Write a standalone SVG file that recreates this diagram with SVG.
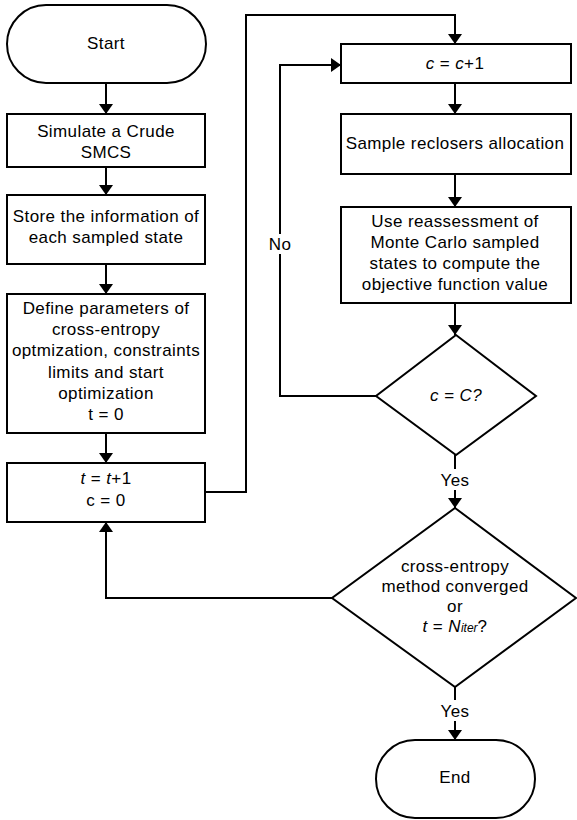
<svg xmlns="http://www.w3.org/2000/svg" width="577" height="820" viewBox="0 0 577 820">
  <defs>
    <marker id="arrow" viewBox="0 0 10 14" refX="10" refY="7" markerWidth="10" markerHeight="14" markerUnits="userSpaceOnUse" orient="auto">
      <path d="M0,0 L10,7 L0,14 Z" fill="#000"/>
    </marker>
    <style>
      .shape { fill: #fff; stroke: #000; stroke-width: 2; }
      .edge { fill: none; stroke: #000; stroke-width: 2; }
      .arr { marker-end: url(#arrow); }
      text { font-family: "Liberation Sans", Arial, sans-serif; font-size: 17px; letter-spacing: 0.4px; fill: #000; text-anchor: middle; }
      .it { font-style: italic; }
      .sub { font-style: italic; font-size: 12px; letter-spacing: 0; }
      .lbl { fill: #fff; stroke: none; }
    </style>
  </defs>

  <!-- connectors -->
  <g id="connectors">
    <line class="edge arr" x1="106" y1="83" x2="106" y2="114"/>
    <line class="edge arr" x1="106" y1="167" x2="106" y2="195"/>
    <line class="edge arr" x1="106" y1="264" x2="106" y2="294"/>
    <line class="edge arr" x1="106" y1="433" x2="106" y2="463"/>
    <polyline class="edge arr" points="205,492 246,492 246,15 455,15 455,44"/>
    <line class="edge arr" x1="455" y1="83" x2="455" y2="114"/>
    <line class="edge arr" x1="455" y1="174" x2="455" y2="207"/>
    <line class="edge arr" x1="455" y1="303" x2="455" y2="335"/>
    <polyline class="edge arr" points="376,396 280,396 280,65 341,65"/>
    <rect class="lbl" x="266" y="234" width="28" height="20"/>
    <text x="280" y="250">No</text>
    <line class="edge arr" x1="455" y1="455" x2="455" y2="508"/>
    <rect class="lbl" x="437" y="469" width="36" height="21"/>
    <text x="455" y="486">Yes</text>
    <polyline class="edge arr" points="332,598 106,598 106,522"/>
    <line class="edge arr" x1="455" y1="687" x2="455" y2="740"/>
    <rect class="lbl" x="437" y="700" width="36" height="21"/>
    <text x="455" y="717">Yes</text>
  </g>

  <g id="start">
    <rect class="shape" x="7" y="5" width="199" height="78" rx="39" ry="39"/>
    <text x="106" y="49">Start</text>
  </g>

  <g id="simulate">
    <rect class="shape" x="7" y="114" width="198" height="53"/>
    <text x="106" y="137">Simulate a Crude</text>
    <text x="106" y="158">SMCS</text>
  </g>

  <g id="store">
    <rect class="shape" x="7" y="195" width="198" height="69"/>
    <text x="106" y="222">Store the information of</text>
    <text x="106" y="243">each sampled state</text>
  </g>

  <g id="define">
    <rect class="shape" x="7" y="294" width="198" height="139"/>
    <text x="106" y="314">Define parameters of</text>
    <text x="106" y="335">cross-entropy</text>
    <text x="106" y="356">optmization, constraints</text>
    <text x="106" y="378">limits and start</text>
    <text x="106" y="399">optimization</text>
    <text x="106" y="420">t = 0</text>
  </g>

  <g id="iter-t">
    <rect class="shape" x="7" y="463" width="198" height="59"/>
    <text x="106" y="484"><tspan class="it">t</tspan> = <tspan class="it">t</tspan>+1</text>
    <text x="106" y="506">c = 0</text>
  </g>

  <g id="iter-c">
    <rect class="shape" x="341" y="44" width="230" height="39"/>
    <text x="455" y="69"><tspan class="it">c</tspan> = <tspan class="it">c</tspan>+1</text>
  </g>

  <g id="sample">
    <rect class="shape" x="341" y="114" width="230" height="60"/>
    <text x="455" y="149">Sample reclosers allocation</text>
  </g>

  <g id="reassess">
    <rect class="shape" x="341" y="207" width="230" height="96"/>
    <text x="455" y="227">Use reassessment of</text>
    <text x="455" y="248">Monte Carlo sampled</text>
    <text x="455" y="269">states to compute the</text>
    <text x="455" y="290">objective function value</text>
  </g>

  <g id="check-c">
    <polygon class="shape" points="456,335 536,396 456,455 376,396"/>
    <text class="it" x="456" y="401">c = C?</text>
  </g>

  <g id="check-converged">
    <polygon class="shape" points="455,508 576,598 455,687 332,598"/>
    <text x="455" y="572">cross-entropy</text>
    <text x="455" y="592">method converged</text>
    <text x="455" y="612">or</text>
    <text x="455" y="632"><tspan class="it">t</tspan> = <tspan class="it">N</tspan><tspan class="sub">iter</tspan>?</text>
  </g>

  <g id="end">
    <rect class="shape" x="376" y="740" width="159" height="78" rx="39" ry="39"/>
    <text x="455" y="783">End</text>
  </g>
</svg>
